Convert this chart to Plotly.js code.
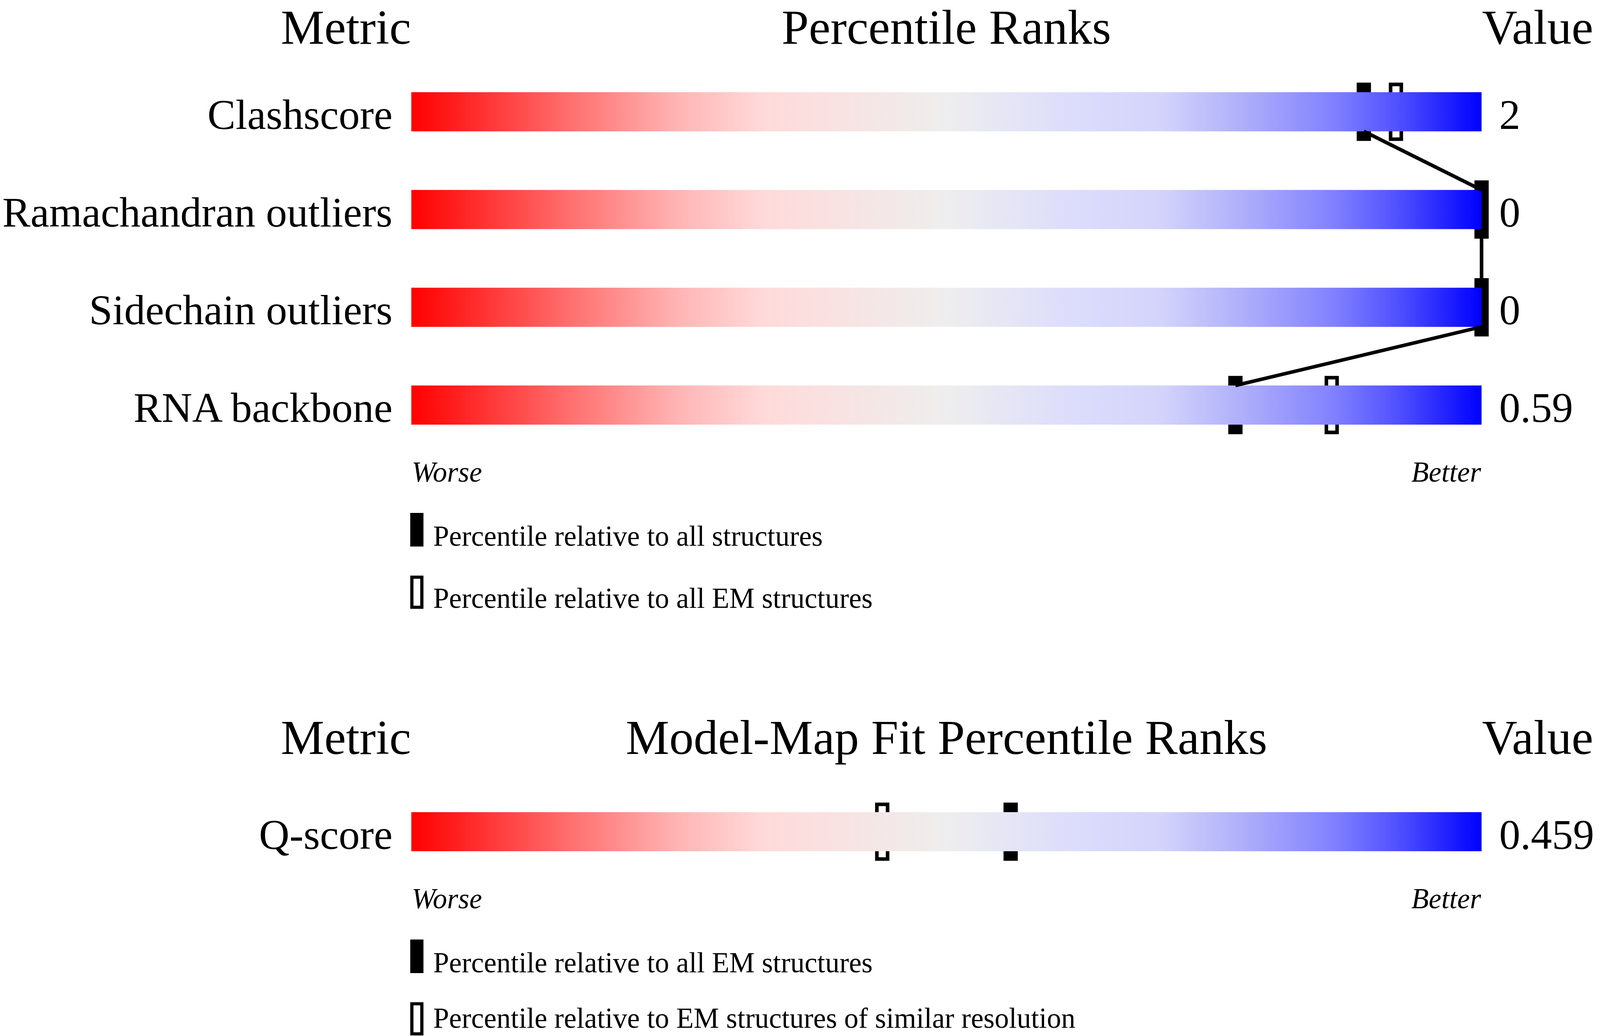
<!DOCTYPE html>
<html>
<head>
<meta charset="utf-8">
<script src="https://cdn.plot.ly/plotly-3.0.1.min.js"></script>
<style>
  html, body { margin: 0; padding: 0; background: #fff; overflow: hidden; }
</style>
</head>
<body>
<div id="chart"></div>
<script>
// geometry checks (top panel)
const metrics = ["Clashscore", "Ramachandran outliers", "Sidechain outliers", "RNA backbone"];
const metricValues = ["2", "0", "0", "0.59"];
const pctAllStructures = [89, 100, 100, 77];
const pctAllEM = [92, null, null, 86];

// model-map fit (bottom panel)
const fitMetrics = ["Q-score"];
const fitValues = ["0.459"];
const fitPctAllEM = [56];
const fitPctSimilarRes = [44];

// layout is worked out on a 4485x2652 sheet, then fitted to the window
const REF_W = 4485, REF_H = 2652;
const W = window.innerWidth || REF_W;
const H = window.innerHeight || REF_H;
const sx = Math.min(1, W / REF_W);
const px = (v) => v / REF_W;
const py = (v) => 1 - v / REF_H;
const FONT = "Liberation Serif, Times New Roman, serif";
const fs = (v) => Math.round(v * sx);

const GRAD = [
  [0, "#ff0000"], [0.15, "#ff7070"], [0.25, "#ffb5b5"], [0.33, "#ffdada"],
  [0.5, "#eeeeee"], [0.62, "#dcdcfc"], [0.7, "#d4d4fb"], [0.79, "#a8a8fb"],
  [0.86, "#8282ff"], [0.92, "#5252ff"], [1, "#0000ff"],
];

const TRACK_H = 0.2;   // half height of the slider track, row units
const MARK_H = 0.56;   // marker height
const MARK_W = 1.0;    // marker width, percentile units
const PAD = 3;         // room past 0 and 100 so end markers are not clipped

function rowY(i, n) { return n - i; }

function tracks(names, yaxis) {
  return names.map((_, i) => {
    const r = rowY(i, names.length);
    return {
      type: "scatter", mode: "none", xaxis: "x", yaxis,
      x: [0, 100, 100, 0], y: [r - TRACK_H, r - TRACK_H, r + TRACK_H, r + TRACK_H],
      fill: "toself",
      fillgradient: { type: "horizontal", colorscale: GRAD },
      hoverinfo: "skip",
    };
  });
}

function markers(names, pct, yaxis, filled) {
  const xs = [], bases = [];
  pct.forEach((p, i) => {
    if (p == null) return;
    xs.push(p);
    bases.push(rowY(i, names.length) - MARK_H / 2);
  });
  return {
    type: "bar", xaxis: "x", yaxis, orientation: "v",
    x: xs, y: xs.map(() => MARK_H), base: bases, width: xs.map(() => MARK_W),
    marker: { color: filled ? "#000" : "rgba(0,0,0,0)", line: { color: "#000", width: 10 * sx } },
    cliponaxis: false, hoverinfo: "skip",
  };
}

// line joining the filled markers, bottom of one track to top of the next
function connector(names, pct, yaxis) {
  const x = [], y = [];
  for (let i = 0; i < pct.length - 1; i++) {
    x.push(pct[i], pct[i + 1], null);
    y.push(rowY(i, names.length) - TRACK_H, rowY(i + 1, names.length) + TRACK_H, null);
  }
  return {
    type: "scatter", mode: "lines", xaxis: "x", yaxis, x, y,
    line: { color: "#000", width: 10 * sx }, cliponaxis: false, hoverinfo: "skip",
  };
}

const data = [
  ...tracks(metrics, "y"),
  ...tracks(fitMetrics, "y2"),
  connector(metrics, pctAllStructures, "y"),
  markers(metrics, pctAllStructures, "y", true),
  markers(metrics, pctAllEM, "y", false),
  markers(fitMetrics, fitPctAllEM, "y2", true),
  markers(fitMetrics, fitPctSimilarRes, "y2", false),
];

const ann = [];
function txt(text, x, y, xanchor, size, opts = {}) {
  ann.push(Object.assign({
    text, x: px(x), y: py(y), xref: "paper", yref: "paper",
    xanchor, yanchor: "middle", showarrow: false, borderpad: 0,
    font: { family: FONT, size: fs(size), color: "#000" },
  }, opts));
}

const BAR_L = 1153, BAR_R = 4153, BAR_MID = (BAR_L + BAR_R) / 2;
const UNIT = (BAR_R - BAR_L) / 100;

// headers
txt("Metric", BAR_L, 0, "right", 137, { yanchor: "top" });
txt("Percentile Ranks", BAR_MID, 0, "center", 137, { yanchor: "top" });
txt("Value", BAR_R, 0, "left", 137, { yanchor: "top" });
txt("Metric", BAR_L, 1888, "right", 137);
txt("Model-Map Fit Percentile Ranks", BAR_MID, 1888, "center", 137);
txt("Value", BAR_R, 1888, "left", 137);

// row labels and values
function rowText(names, vals, yref) {
  names.forEach((m, i) => {
    const r = rowY(i, names.length);
    ann.push({ text: m, x: px(1101), xref: "paper", y: r, yref, xanchor: "right", yanchor: "middle",
      yshift: -7, showarrow: false, borderpad: 0, font: { family: FONT, size: fs(118), color: "#000" } });
    ann.push({ text: vals[i], x: px(4201), xref: "paper", y: r, yref, xanchor: "left", yanchor: "middle",
      yshift: -7, showarrow: false, borderpad: 0, font: { family: FONT, size: fs(118), color: "#000" } });
  });
}
rowText(metrics, metricValues, "y");
rowText(fitMetrics, fitValues, "y2");

// worse / better
[1209, 2300].forEach((y) => {
  txt("<i>Worse</i>", BAR_L, y, "left", 80);
  txt("<i>Better</i>", BAR_R, y, "right", 80);
});

// legends
const shapes = [];
function legendItem(label, top, filled) {
  const x0 = 1150, x1 = 1187, y0 = top, y1 = top + 86;
  if (filled) {
    shapes.push({ type: "rect", xref: "paper", yref: "paper", x0: px(x0), x1: px(x1), y0: py(y1), y1: py(y0),
      fillcolor: "#000", line: { width: 0 } });
  } else {
    shapes.push({ type: "rect", xref: "paper", yref: "paper", x0: px(x0 + 4.5), x1: px(x1 - 4.5), y0: py(y1 - 4.5), y1: py(y0 + 4.5),
      fillcolor: "rgba(0,0,0,0)", line: { color: "#000", width: 9 * sx } });
  }
  txt(label, 1213, Math.min(y1 - 27, REF_H - 46), "left", 80);
}
legendItem("Percentile relative to all structures", 1313, true);
legendItem("Percentile relative to all EM structures", 1473, false);
legendItem("Percentile relative to all EM structures", 2405, true);
legendItem("Percentile relative to EM structures of similar resolution", 2565, false);

const hidden = { visible: false, showgrid: false, zeroline: false, fixedrange: true };
const layout = {
  width: W, height: H,
  margin: { l: 0, r: 0, t: 0, b: 0 },
  paper_bgcolor: "#fff", plot_bgcolor: "rgba(0,0,0,0)",
  showlegend: false, hovermode: false, barmode: "overlay",
  xaxis: Object.assign({ range: [-PAD, 100 + PAD], domain: [px(BAR_L - PAD * UNIT), px(BAR_R + PAD * UNIT)], anchor: "y" }, hidden),
  yaxis: Object.assign({ range: [0.4, 4.6], domain: [py(1187), py(136)], anchor: "x" }, hidden),
  yaxis2: Object.assign({ range: [0.4, 1.6], domain: [py(2279), py(1979)], anchor: "x" }, hidden),
  annotations: ann,
  shapes,
};

Plotly.newPlot("chart", data, layout, { displayModeBar: false, staticPlot: true });
</script>
</body>
</html>
